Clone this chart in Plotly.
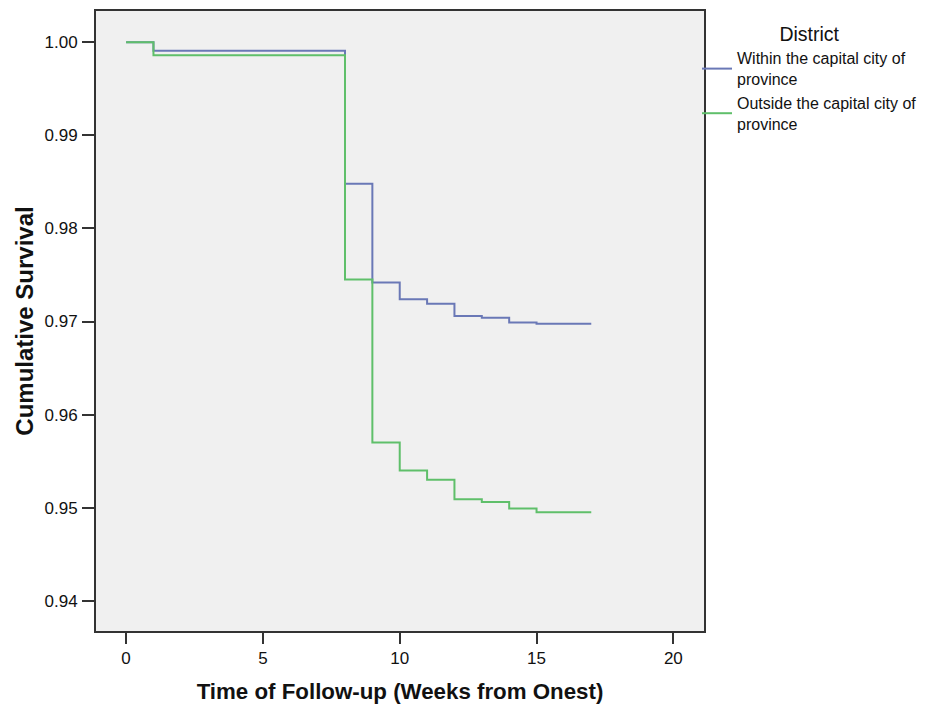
import plotly.graph_objects as go

# Data (Kaplan-Meier step curves)
weeks_within = [0, 1, 8, 9, 10, 11, 12, 13, 14, 15, 17]
surv_within = [1.0000, 0.9991, 0.9848, 0.9742, 0.9724, 0.9719, 0.9706, 0.9704, 0.9699, 0.96975, 0.96975]

weeks_outside = [0, 1, 8, 9, 10, 11, 12, 13, 14, 15, 17]
surv_outside = [1.0000, 0.9986, 0.9745, 0.9570, 0.9540, 0.9530, 0.9509, 0.9506, 0.9499, 0.9495, 0.9495]

series_names = ["Within the capital city of<br>province", "Outside the capital city of<br>province"]
x_ticks = [0, 5, 10, 15, 20]
y_ticks = [0.94, 0.95, 0.96, 0.97, 0.98, 0.99, 1.00]
y_tick_labels = ["0.94", "0.95", "0.96", "0.97", "0.98", "0.99", "1.00"]

BLUE = "#6a78b6"
GREEN = "#5fbf6a"
FONT = "Liberation Sans, Arial, sans-serif"

fig = go.Figure()
fig.add_trace(go.Scatter(x=weeks_within, y=surv_within, mode="lines", name=series_names[0],
                         line=dict(color=BLUE, width=2, shape="hv")))
fig.add_trace(go.Scatter(x=weeks_outside, y=surv_outside, mode="lines", name=series_names[1],
                         line=dict(color=GREEN, width=2, shape="hv")))

fig.update_layout(
    width=927, height=708,
    margin=dict(l=96, r=223, t=11, b=77, autoexpand=False),
    paper_bgcolor="white",
    plot_bgcolor="#f0f0f0",
    font=dict(family=FONT, color="#111"),
    legend=dict(
        title=dict(text="District", side="top center", font=dict(size=19.5, color="#111")),
        x=0.9885, xanchor="left", y=0.992, yanchor="top",
        bgcolor="rgba(0,0,0,0)",
        font=dict(size=16, color="#111"),
        tracegroupgap=0,
        itemwidth=30,
    ),
    xaxis=dict(
        range=[-1.1, 21.12],
        tickvals=x_ticks,
        ticks="outside", ticklen=11, tickwidth=2, tickcolor="#333",
        showgrid=False, zeroline=False, automargin=False,
        showline=True, linecolor="#333", linewidth=2, mirror=True,
        tickfont=dict(size=17, color="#111"),
        title=dict(text="<b>Time of Follow-up (Weeks from Onest)</b>", font=dict(size=22.3, color="#111"), standoff=16),
    ),
    yaxis=dict(
        range=[0.936744, 1.003363],
        tickvals=y_ticks, ticktext=y_tick_labels,
        ticks="outside", ticklen=12, tickwidth=2, tickcolor="#333",
        ticklabelstandoff=1,
        showgrid=False, zeroline=False, automargin=False,
        showline=True, linecolor="#333", linewidth=2, mirror=True,
        tickfont=dict(size=17, color="#111"),
        title=dict(text="<b>Cumulative Survival</b>", font=dict(size=24, color="#111"), standoff=4),
    ),
)

fig.write_html("out.html", config={"displayModeBar": False},
               post_script="document.body.style.margin='0';")
